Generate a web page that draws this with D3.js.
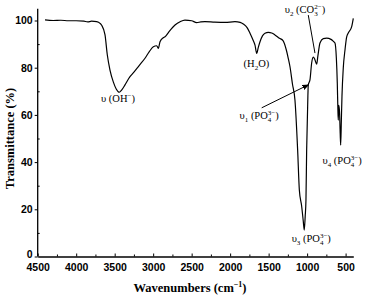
<!doctype html>
<html lang="en">
<head>
  <meta charset="utf-8">
  <title>FTIR spectrum</title>
  <script src="https://d3js.org/d3.v7.min.js"></script>
  <style>
    html, body { margin: 0; padding: 0; background: #fff; }
    svg { display: block; font-family: "Liberation Serif", "Times New Roman", serif; }
    .tick text { font-size: 10.5px; font-weight: bold; }
    .axis path, .axis line { stroke: #000; }
    .note { font-size: 10.5px; }
    .title { font-size: 12.5px; font-weight: bold; }
  </style>
</head>
<body>
  <div id="chart"></div>
  <script>
    // spectrum: wavenumber (cm-1) and transmittance (%)
    const wavenumbers = [4405, 4300, 4200, 4100, 4000, 3900, 3850, 3800, 3734, 3690, 3669, 3626, 3596, 3561, 3518,
      3480, 3440, 3410, 3366, 3301, 3258, 3180, 3106, 3050, 2998, 2954, 2933, 2911, 2868, 2846, 2800, 2716, 2650,
      2587, 2500, 2435, 2380, 2327, 2200, 2067, 1937, 1870, 1829, 1780, 1742, 1700, 1677, 1655, 1635, 1612, 1580,
      1547, 1504, 1460, 1418, 1360, 1313, 1270, 1245, 1223, 1190, 1158, 1123, 1101, 1070, 1050, 1037, 1025, 1015,
      1006, 990, 985, 963, 941, 920, 900, 876, 860, 833, 790, 746, 690, 660, 638, 620, 608, 600, 595, 590, 580,
      570, 564, 555, 547, 530, 508, 486, 460, 421, 400];
    const transmittance = [100.3, 100.0, 100.1, 99.9, 99.9, 99.7, 99.4, 99.7, 99.5, 98.8, 98.0, 94.0, 85.5, 79.0, 74.0,
      71.0, 69.6, 70.5, 72.7, 76.2, 77.8, 81.0, 84.0, 86.8, 88.9, 89.3, 88.2, 91.0, 92.7, 93.1, 95.0, 98.1, 99.5,
      100.2, 99.9, 99.1, 99.4, 99.5, 99.3, 99.2, 99.5, 99.2, 98.5, 97.0, 94.6, 91.5, 89.6, 86.1, 88.5, 91.0, 93.5,
      94.6, 95.0, 94.7, 93.9, 92.5, 91.5, 87.5, 84.0, 80.5, 73.0, 66.3, 45.1, 28.2, 21.1, 15.0, 11.2, 17.0, 23.9,
      45.1, 68.0, 72.7, 74.8, 82.0, 84.5, 83.5, 81.5, 85.0, 90.5, 92.3, 92.5, 92.0, 91.2, 90.5, 84.0, 73.5, 62.0,
      57.8, 64.0, 62.0, 52.0, 47.2, 58.0, 68.0, 80.0, 87.5, 93.1, 95.0, 97.4, 100.9];

    const xTicks = [4500, 4000, 3500, 3000, 2500, 2000, 1500, 1000, 500];
    const yTicks = [0, 20, 40, 60, 80, 100];

    const width = 366, height = 299;
    const x = d3.scaleLinear().domain([4500, 400]).range([37.7, 353.3]);
    const y = d3.scaleLinear().domain([0, 100]).range([256.5, 20.5]);

    const svg = d3.select('#chart').append('svg')
      .attr('width', width).attr('height', height);

    // axes
    const xAxis = svg.append('g').attr('class', 'axis')
      .attr('transform', `translate(0,${y(0)})`)
      .call(d3.axisBottom(x).tickValues(xTicks).tickSizeInner(-3).tickSizeOuter(0).tickPadding(7).tickFormat(d3.format('d')));
    xAxis.select('.domain').attr('stroke-width', 1.3);
    svg.append('g').attr('class', 'axis')
      .attr('transform', `translate(0,${y(0)})`)
      .call(d3.axisBottom(x).tickValues(d3.range(4250, 400, -500)).tickSize(-2).tickFormat(''))
      .select('.domain').remove();

    const yAxis = svg.append('g').attr('class', 'axis')
      .attr('transform', `translate(${x(4500)},0)`)
      .call(d3.axisLeft(y).tickValues(yTicks).tickSize(3).tickPadding(2));
    yAxis.select('.domain').attr('d', `M0,${y(0)}V${y(105)}`).attr('stroke-width', 1.3);
    yAxis.selectAll('.tick').filter(d => d === 0).select('text').attr('dy', '0.1em');
    svg.append('g').attr('class', 'axis')
      .attr('transform', `translate(${x(4500)},0)`)
      .call(d3.axisLeft(y).tickValues(d3.range(10, 101, 20)).tickSize(-2).tickFormat(''))
      .select('.domain').remove();

    // spectrum
    const pts = wavenumbers.map((w, i) => [w, transmittance[i]]);
    svg.append('path')
      .datum(pts)
      .attr('fill', 'none').attr('stroke', '#000').attr('stroke-width', 1.2)
      .attr('stroke-linejoin', 'round')
      .attr('d', d3.line().x(d => x(d[0])).y(d => y(d[1])).curve(d3.curveMonotoneX));

    // annotation helper: parts = [text, shift]; a superscript right after a subscript is stacked over it
    function note(w, t, parts) {
      const txt = svg.append('text').attr('class', 'note')
        .attr('x', x(w)).attr('y', y(t)).attr('text-anchor', 'middle');
      parts.forEach(([s, kind], i) => {
        const ts = txt.append('tspan').text(s);
        if (kind === 'sub') ts.attr('baseline-shift', -3).attr('font-size', 7);
        if (kind === 'super') {
          ts.attr('baseline-shift', 4).attr('font-size', 7);
          if (i > 0 && parts[i - 1][1] === 'sub') ts.attr('dx', -3.5);
        }
      });
    }
    note(3457, 65.5, [['υ (OH', ''], ['−', 'super'], [')', '']]);
    note(1658, 80.3, [['(H', ''], ['2', 'sub'], ['O)', '']]);
    note(1028, 103.3, [['υ', ''], ['2', 'sub'], [' (CO', ''], ['3', 'sub'], ['2−', 'super'], [')', '']]);
    note(1623, 58.3, [['υ', ''], ['1', 'sub'], [' (PO', ''], ['4', 'sub'], ['3−', 'super'], [')', '']]);
    note(946, 6.1, [['υ', ''], ['3', 'sub'], [' (PO', ''], ['4', 'sub'], ['3−', 'super'], [')', '']]);
    note(545, 39.2, [['υ', ''], ['4', 'sub'], [' (PO', ''], ['4', 'sub'], ['3−', 'super'], [')', '']]);

    // pointer lines
    svg.append('defs').append('marker')
      .attr('id', 'head').attr('viewBox', '0 0 10 10').attr('refX', 9).attr('refY', 5)
      .attr('markerWidth', 7).attr('markerHeight', 7).attr('orient', 'auto')
      .append('path').attr('d', 'M0,1L10,5L0,9Z').attr('fill', '#000');
    svg.append('line')
      .attr('x1', x(1590)).attr('y1', y(63)).attr('x2', x(980)).attr('y2', y(72.8))
      .attr('stroke', '#000').attr('stroke-width', 1).attr('marker-end', 'url(#head)');
    svg.append('line')
      .attr('x1', x(985)).attr('y1', y(102.3)).attr('x2', x(898)).attr('y2', y(86.2))
      .attr('stroke', '#000').attr('stroke-width', 1);

    // axis titles
    const xt = svg.append('text').attr('class', 'title')
      .attr('x', 190).attr('y', 292).attr('text-anchor', 'middle');
    xt.append('tspan').text('Wavenumbers (cm');
    xt.append('tspan').text('−1').attr('baseline-shift', '5').attr('font-size', 8);
    xt.append('tspan').text(')');
    svg.append('text').attr('class', 'title')
      .attr('transform', 'rotate(-90)')
      .attr('x', -(y(50))).attr('y', 14)
      .attr('text-anchor', 'middle').text('Transmittance (%)');
  </script>
</body>
</html>
